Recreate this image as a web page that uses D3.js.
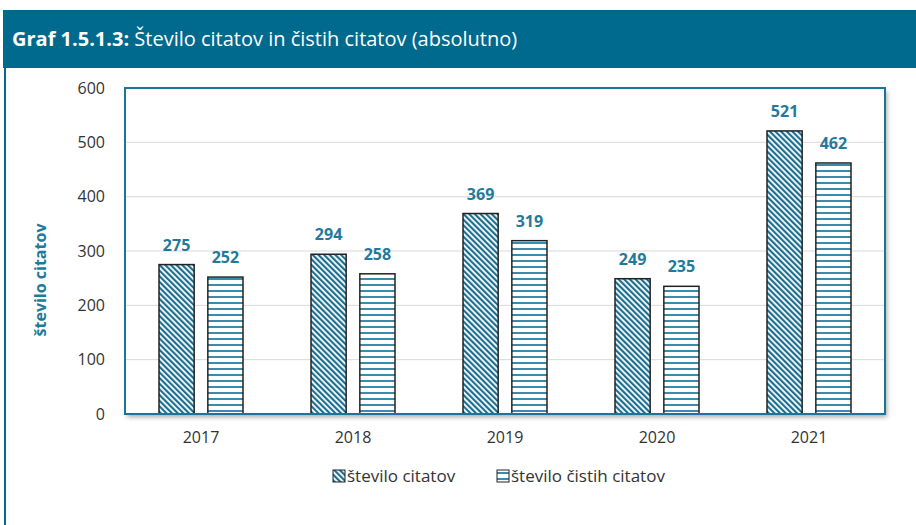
<!doctype html>
<html>
<head>
<meta charset="utf-8"/>
<title>Graf 1.5.1.3</title>
<script src="https://cdnjs.cloudflare.com/ajax/libs/d3/7.8.5/d3.min.js"></script>
<style>
  body { margin: 0; background: #fff; }
  svg { display: block; font-family: "Open Sans", sans-serif; }
  .tick text { fill: #333; font-size: 16px; font-family: "Open Sans", sans-serif; }
  .grid line { stroke: #d9d9d9; stroke-width: 1px; }
  .lbl { fill: #1f7a9c; font-size: 16px; font-weight: bold; text-anchor: middle; }
  .bar { stroke: #222; stroke-width: 1.5px; }
</style>
</head>
<body>
<svg width="916" height="525"></svg>
<script>
var years = ["2017", "2018", "2019", "2020", "2021"];
var series = ["število citatov", "število čistih citatov"];
var citati = [275, 294, 369, 249, 521];
var cisti = [252, 258, 319, 235, 462];
var yTicks = [0, 100, 200, 300, 400, 500, 600];

var svg = d3.select("svg");
var teal = "#006a8e";

var defs = svg.append("defs");
var diag = defs.append("pattern").attr("id", "diag")
  .attr("patternUnits", "userSpaceOnUse").attr("width", 4).attr("height", 4)
  .attr("patternTransform", "rotate(-45)");
diag.append("rect").attr("width", 4).attr("height", 4).attr("fill", "#fff");
diag.append("rect").attr("width", 2.2).attr("height", 4).attr("fill", "#1d6f90");

var horiz = defs.append("pattern").attr("id", "horiz")
  .attr("patternUnits", "userSpaceOnUse").attr("width", 6).attr("height", 6);
horiz.append("rect").attr("width", 6).attr("height", 6).attr("fill", "#fff");
horiz.append("rect").attr("y", 2).attr("width", 6).attr("height", 2).attr("fill", "#3a8cad");

var shadow = defs.append("filter").attr("id", "shadow")
  .attr("x", "-5%").attr("y", "-5%").attr("width", "110%").attr("height", "115%");
shadow.append("feDropShadow").attr("dx", 2).attr("dy", 3).attr("stdDeviation", 2.5)
  .attr("flood-color", "#000").attr("flood-opacity", 0.35);

// header + frame
svg.append("rect").attr("x", 3).attr("y", 10).attr("width", 913).attr("height", 58).attr("fill", teal);
svg.append("line").attr("x1", 5).attr("x2", 5).attr("y1", 68).attr("y2", 525)
  .attr("stroke", teal).attr("stroke-width", 2);
var title = svg.append("text").attr("x", 12).attr("y", 46).attr("fill", "#fff").attr("font-size", 20);
title.append("tspan").attr("font-weight", "bold").text("Graf 1.5.1.3:");
title.append("tspan").text(" Število citatov in čistih citatov (absolutno)");

var pLeft = 125, pRight = 885, pTop = 88, pBottom = 414;

var y = d3.scaleLinear().domain([0, 600]).range([pBottom, pTop]);
var x0 = d3.scaleBand().domain(years).range([pLeft, pRight]);
var x1 = d3.scaleBand().domain(series).range([x0.bandwidth() / 2 - 42, x0.bandwidth() / 2 + 42]).paddingInner(0.28);

// plot frame with shadow
svg.append("rect").attr("x", pLeft).attr("y", pTop).attr("width", pRight - pLeft).attr("height", pBottom - pTop)
  .attr("fill", "#fff").attr("filter", "url(#shadow)");

svg.append("g").attr("class", "grid")
  .selectAll("line").data(yTicks.slice(1, -1)).enter().append("line")
  .attr("x1", pLeft).attr("x2", pRight).attr("y1", d => y(d)).attr("y2", d => y(d));

var rows = years.map((yr, i) => ({ year: yr, vals: [citati[i], cisti[i]] }));

var g = svg.append("g").selectAll("g").data(rows).enter().append("g")
  .attr("transform", d => "translate(" + x0(d.year) + ",0)");

g.selectAll("rect").data(d => d.vals.map((v, j) => ({ s: series[j], v: v, j: j })))
  .enter().append("rect").attr("class", "bar")
  .attr("x", d => x1(d.s)).attr("width", x1.bandwidth())
  .attr("y", d => y(d.v)).attr("height", d => pBottom - y(d.v))
  .attr("fill", d => d.j === 0 ? "url(#diag)" : "url(#horiz)");

g.selectAll("text").data(d => d.vals.map((v, j) => ({ s: series[j], v: v })))
  .enter().append("text").attr("class", "lbl")
  .attr("x", d => x1(d.s) + x1.bandwidth() / 2).attr("y", d => y(d.v) - 14)
  .text(d => d.v);

svg.append("rect").attr("x", pLeft).attr("y", pTop).attr("width", pRight - pLeft).attr("height", pBottom - pTop)
  .attr("fill", "none").attr("stroke", "#1b7598").attr("stroke-width", 2);

// axes
var yAxis = svg.append("g").attr("transform", "translate(" + pLeft + ",0)")
  .call(d3.axisLeft(y).tickValues(yTicks).tickSize(0).tickPadding(20));
yAxis.select(".domain").remove();

var xAxis = svg.append("g").attr("transform", "translate(0," + pBottom + ")")
  .call(d3.axisBottom(x0).tickSize(0).tickPadding(18));
xAxis.select(".domain").remove();

svg.append("text").attr("transform", "translate(46,280) rotate(-90)")
  .attr("text-anchor", "middle").attr("fill", "#1f7a9c").attr("font-size", 16).attr("font-weight", "bold")
  .text("število citatov");

// legend
var legend = svg.append("g").attr("transform", "translate(333,476)");
var lx = [0, 164];
series.forEach((s, i) => {
  var lg = legend.append("g").attr("transform", "translate(" + lx[i] + ",0)");
  lg.append("rect").attr("x", 0).attr("y", -6).attr("width", 12).attr("height", 12)
    .attr("fill", i === 0 ? "url(#diag)" : "url(#horiz)").attr("stroke", "#222").attr("stroke-width", 1);
  lg.append("text").attr("x", 14).attr("y", 6).attr("fill", "#333").attr("font-size", 17).text(s);
});
</script>
</body>
</html>
